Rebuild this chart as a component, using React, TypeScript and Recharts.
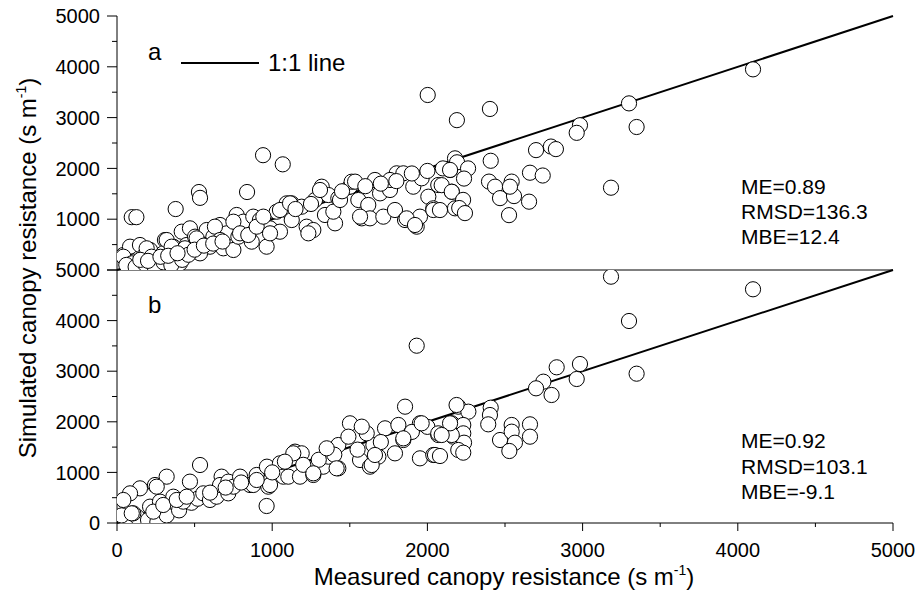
import { ScatterChart, Scatter, XAxis, YAxis, ReferenceLine } from "recharts";

// measured (x) vs simulated (y) canopy resistance, s m-1
const panelA: number[][] = [
  [41, 295], [84, 459], [105, 164], [148, 492], [170, 262], [213, 394], [256, 197], [309, 590],
  [331, 361], [363, 459], [385, 230], [417, 754], [449, 492], [470, 820], [503, 656], [535, 427],
  [578, 787], [599, 459], [621, 656], [664, 886], [685, 427], [707, 722], [771, 1083], [750, 394],
  [782, 656], [814, 951], [868, 558], [878, 1050], [921, 984], [964, 459], [986, 820], [1029, 1148],
  [1050, 754], [1093, 1312], [41, 262], [95, 131], [191, 427], [223, 262], [256, 131], [298, 328],
  [320, 590], [352, 459], [406, 131], [438, 427], [513, 623], [535, 328], [631, 853], [664, 590],
  [750, 951], [793, 722], [846, 689], [900, 853], [943, 1050], [986, 722], [60, 100], [120, 60],
  [180, 120], [240, 80], [300, 150], [350, 100], [420, 200], [460, 300], [150, 200], [200, 180],
  [280, 260], [330, 280], [390, 330], [500, 400], [560, 480], [620, 520], [680, 560],
  [1093, 1181], [1125, 1312], [1190, 1246], [1222, 853], [1265, 787], [1276, 1378], [1319, 1640],
  [1340, 1083], [1362, 1476], [1426, 1411], [1405, 919], [1501, 1640], [1512, 1738], [1555, 1378],
  [1577, 1017], [1619, 1280], [1630, 1017], [1662, 1772], [1695, 1509], [1716, 1050], [1759, 1575],
  [1791, 1181], [1802, 1903], [1845, 1903], [1856, 984], [1909, 1640], [1931, 853], [1952, 1050],
  [1963, 1805], [2006, 1443], [2038, 1214], [2070, 1673], [2146, 1968], [2157, 1541], [2178, 1214],
  [2178, 2198], [1050, 1181], [1115, 1312], [1126, 984], [1233, 722], [1308, 1575], [1394, 1148],
  [1437, 1378], [1534, 1739], [1566, 1050], [1759, 1772], [1866, 1017], [1920, 886], [2038, 1181],
  [1150, 1200], [1250, 1300], [1450, 1550], [1600, 1650], [1700, 1700], [1800, 1750], [1900, 1900],
  [2000, 1950], [2100, 2000],
  [95, 1040], [125, 1040], [378, 1200], [528, 1535], [535, 1420], [838, 1535], [941, 2260],
  [1068, 2080], [2002, 3445], [2190, 2950], [2403, 3170], [4098, 3950], [3299, 3280], [3348, 2815],
  [2983, 2850], [2962, 2700], [3183, 1620], [2700, 2360], [2796, 2430], [2828, 2380], [2408, 2150],
  [2191, 2120], [2262, 2000], [2146, 1970], [2236, 1800], [2092, 1670], [2157, 1540], [2230, 1380],
  [2205, 1220], [2242, 1120], [2081, 1180], [2397, 1740], [2436, 1640], [2468, 1415], [2558, 1455],
  [2526, 1080], [2543, 1740], [2532, 1640], [2661, 1915], [2743, 1860], [2655, 1345],
];

const panelB: number[][] = [
  [62, 59], [170, 59], [234, 158], [298, 290], [384, 356], [30, 150], [130, 120], [200, 60],
  [260, 20], [320, 150], [400, 250], [480, 400], [520, 480], [105, 191], [213, 323], [277, 422],
  [363, 520], [427, 422], [556, 586], [95, 191], [234, 224], [298, 356], [385, 455],
  [148, 685], [84, 586], [41, 455], [245, 751], [320, 916], [256, 718], [470, 817], [449, 520],
  [535, 1146], [621, 586], [599, 455], [642, 520], [717, 586], [674, 916], [664, 751], [717, 817],
  [750, 718], [793, 916], [857, 751], [878, 751], [900, 949], [966, 1113], [975, 718], [986, 751],
  [964, 336], [1050, 1179], [1072, 916], [1104, 916], [1179, 916], [1147, 1410], [1190, 1377],
  [1265, 949], [1329, 1113], [1362, 1311], [1426, 1080], [1426, 1541], [1566, 1245], [1630, 1113],
  [1684, 1311], [1652, 1541], [1609, 1772], [1791, 1377], [1845, 1640], [1952, 1278], [2038, 1344],
  [2070, 1739], [1727, 1871], [1813, 1937], [1952, 1970], [1501, 1970], [1856, 2299], [2157, 1970],
  [600, 600], [700, 700], [800, 800], [900, 850], [1000, 1000], [1200, 1150], [1300, 1250],
  [1400, 1350], [1550, 1450], [1700, 1600], [1900, 1800], [2000, 1900],
  [1577, 1904], [1491, 1706], [1845, 1673], [1963, 1970], [2070, 1772], [2167, 1706], [1641, 1146],
  [1662, 1344], [1415, 1081], [1351, 1476], [1136, 1377], [1082, 1212], [1265, 982], [2049, 1344],
  [1931, 3504], [3183, 4868], [4098, 4619], [3299, 3992], [3348, 2951], [2983, 3142], [2962, 2846],
  [2833, 3077], [2800, 2530], [2747, 2793], [2700, 2662], [2408, 2279], [2403, 2134], [2392, 1950],
  [2468, 1640], [2543, 1937], [2543, 1805], [2564, 1587], [2528, 1423], [2661, 1950], [2661, 1706],
  [2199, 2299], [2264, 2200], [2231, 1937], [2231, 1772], [2236, 1587], [2199, 1443], [2231, 1390],
  [2157, 1739], [2146, 1970], [2092, 1739], [2081, 1324], [2188, 2332],
];

const statsA = ["ME=0.89", "RMSD=136.3", "MBE=12.4"];
const statsB = ["ME=0.92", "RMSD=103.1", "MBE=-9.1"];
const axisTicks = [0, 500, 1000, 1500, 2000, 2500, 3000, 3500, 4000, 4500, 5000];

const FONT = '"Liberation Sans", Arial, sans-serif';
const toPoints = (arr: number[][]) => arr.map(([x, y]) => ({ x, y }));

const isMajor = (v: number) => v % 1000 === 0;

const leftTick = (showZero: boolean) => (p: any) => {
  const v = p.payload.value;
  return (
    <g>
      <line x1={p.x} x2={p.x - (isMajor(v) ? 10 : 5)} y1={p.y} y2={p.y} stroke="#000" />
      {isMajor(v) && (showZero || v !== 0) && (
        <text x={p.x - 17} y={p.y} dy="0.36em" textAnchor="end" fontSize={20} fontFamily={FONT} fill="#000">
          {v}
        </text>
      )}
    </g>
  );
};

const rightTick = (p: any) => {
  const v = p.payload.value;
  return <line x1={p.x} x2={p.x - (isMajor(v) ? 10 : 6)} y1={p.y} y2={p.y} stroke="#000" />;
};

const topTick = (p: any) => {
  const v = p.payload.value;
  return <line x1={p.x} x2={p.x} y1={p.y} y2={p.y + (isMajor(v) ? 10 : 6)} stroke="#000" />;
};

const bottomTick = (labels: boolean) => (p: any) => {
  const v = p.payload.value;
  if (!labels) return <g />;
  return (
    <g>
      <line x1={p.x} x2={p.x} y1={p.y} y2={p.y + (isMajor(v) ? 8 : 4)} stroke="#000" />
      {isMajor(v) && (
        <text x={p.x} y={p.y + 34} textAnchor="middle" fontSize={20} fontFamily={FONT} fill="#000">
          {v}
        </text>
      )}
    </g>
  );
};

const Circle = (p: any) => (
  <circle cx={p.cx} cy={p.cy} r={7.6} fill="#fff" stroke="#000" strokeWidth={1} />
);

function Panel({ data, top, height, marginTop, bottomAxisHeight, last }: any) {
  return (
    <div style={{ position: "absolute", left: 0, top }}>
      <ScatterChart
        width={916}
        height={height}
        margin={{ top: marginTop, right: 23, left: 0, bottom: 0 }}
      >
        <XAxis
          xAxisId="b"
          type="number"
          dataKey="x"
          domain={[0, 5000]}
          ticks={axisTicks}
          interval={0}
          allowDataOverflow
          height={bottomAxisHeight}
          tickSize={0}
          tickMargin={0}
          tickLine={false}
          axisLine={{ stroke: "#000" }}
          tick={bottomTick(last)}
        />
        <XAxis
          xAxisId="t"
          orientation="top"
          type="number"
          domain={[0, 5000]}
          ticks={axisTicks}
          interval={0}
          allowDataOverflow
          height={0}
          tickSize={0}
          tickMargin={0}
          tickLine={false}
          axisLine={{ stroke: "#000" }}
          tick={topTick}
        />
        <YAxis
          yAxisId="l"
          type="number"
          dataKey="y"
          domain={[0, 5000]}
          ticks={axisTicks}
          interval={0}
          allowDataOverflow
          width={117}
          tickSize={0}
          tickMargin={0}
          tickLine={false}
          axisLine={{ stroke: "#000" }}
          tick={leftTick(last)}
        />
        <YAxis
          yAxisId="r"
          orientation="right"
          type="number"
          domain={[0, 5000]}
          ticks={axisTicks}
          interval={0}
          allowDataOverflow
          width={0}
          tickSize={0}
          tickMargin={0}
          tickLine={false}
          axisLine={{ stroke: "#000" }}
          tick={rightTick}
        />
        <Scatter
          xAxisId="b"
          yAxisId="l"
          data={toPoints(data)}
          shape={Circle}
          isAnimationActive={false}
        />
        <ReferenceLine
          xAxisId="b"
          yAxisId="l"
          segment={[{ x: 0, y: 0 }, { x: 5000, y: 5000 }]}
          stroke="#000"
          strokeWidth={2}
        />
      </ScatterChart>
    </div>
  );
}

export default function App() {
  return (
    <div
      style={{
        position: "absolute",
        left: 0,
        top: 0,
        width: 916,
        height: 591,
        background: "#fff",
        overflow: "hidden",
      }}
    >
      <Panel data={panelA} top={0} height={271} marginTop={16} bottomAxisHeight={1} last={false} />
      <Panel data={panelB} top={260} height={320} marginTop={10} bottomAxisHeight={57} last={true} />
      <svg
        width={916}
        height={591}
        style={{ position: "absolute", left: 0, top: 0, pointerEvents: "none" }}
        fontFamily={FONT}
      >
        <text x={148} y={59.5} fontSize={24}>a</text>
        <line x1={181} x2={259} y1={63} y2={63} stroke="#000" strokeWidth={2} />
        <text x={268} y={71} fontSize={24}>1:1 line</text>
        <text x={148} y={313} fontSize={24}>b</text>
        {statsA.map((s, i) => (
          <text key={s} x={741} y={194 + i * 25} fontSize={21}>{s}</text>
        ))}
        {statsB.map((s, i) => (
          <text key={s} x={741} y={448 + i * 25.5} fontSize={21}>{s}</text>
        ))}
        <text x={504} y={585} fontSize={24} textAnchor="middle">
          Measured canopy resistance (s m<tspan dy={-10} fontSize={14}>-1</tspan>
          <tspan dy={10}>)</tspan>
        </text>
        <text x={36} y={268} fontSize={24} textAnchor="middle" transform="rotate(-90 36 268)">
          Simulated canopy resistance (s m<tspan dy={-10} fontSize={14}>-1</tspan>
          <tspan dy={10}>)</tspan>
        </text>
      </svg>
    </div>
  );
}
